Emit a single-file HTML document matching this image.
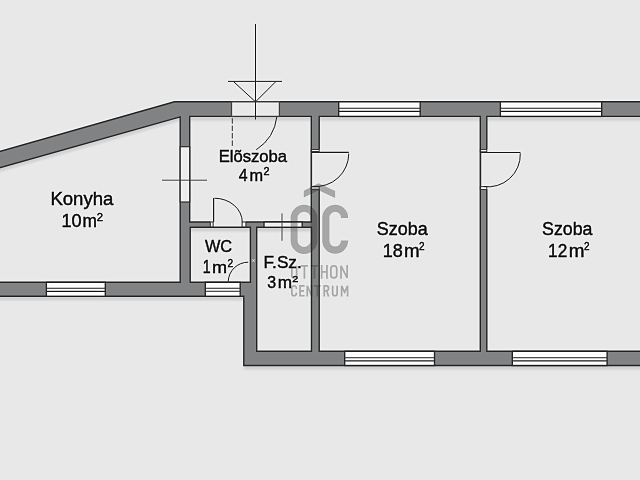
<!DOCTYPE html>
<html><head><meta charset="utf-8"><title>Floor plan</title>
<style>
html,body{margin:0;padding:0;background:#e8e8e8;overflow:hidden;width:640px;height:480px}
svg{display:block}
text{font-family:"Liberation Sans",sans-serif}
</style></head><body>
<svg width="640" height="480" viewBox="0 0 640 480">
<defs><filter id="sb" x="-10%" y="-10%" width="120%" height="120%"><feGaussianBlur stdDeviation="1.2"/></filter><filter id="usm" filterUnits="userSpaceOnUse" x="-20" y="-20" width="680" height="520" color-interpolation-filters="sRGB"><feGaussianBlur in="SourceGraphic" stdDeviation="1.0" result="b"/><feComposite in="SourceGraphic" in2="b" operator="arithmetic" k1="0" k2="1.3" k3="-0.3" k4="0"/></filter></defs><g filter="url(#usm)"><rect x="-20" y="-20" width="680" height="520" fill="#e8e8e8"/>
<path d="M-5,152.8 L174.5,101.8 L645,101.8 L645,365.5 L243.8,365.5 L243.8,296.3 L-5,296.3 Z M-5,169.0 L180.2,116.8 L180.2,282.3 L-5,282.3 Z M189.7,116.4 H311.3 V222.0 H189.7 Z M190.2,227.3 H250.4 V282.3 H190.2 Z M256.7,227.3 H311.5 V351.3 H256.7 Z M319.2,116.4 H480.3 V351.3 H319.2 Z M486.8,116.4 H656.8 V351.3 H486.8 Z" fill-rule="evenodd" fill="#000" opacity="0.11" transform="translate(0,4.0)" filter="url(#sb)"/>
<path d="M-5,152.8 L174.5,101.8 L645,101.8 L645,365.5 L243.8,365.5 L243.8,296.3 L-5,296.3 Z M-5,169.0 L180.2,116.8 L180.2,282.3 L-5,282.3 Z M189.7,116.4 H311.3 V222.0 H189.7 Z M190.2,227.3 H250.4 V282.3 H190.2 Z M256.7,227.3 H311.5 V351.3 H256.7 Z M319.2,116.4 H480.3 V351.3 H319.2 Z M486.8,116.4 H656.8 V351.3 H486.8 Z" fill-rule="evenodd" fill="#818283" stroke="#333333" stroke-width="1.4"/>
<rect x="338.7" y="101.8" width="81.50" height="14.60" fill="#f9f9f9" stroke="#333333" stroke-width="1.4"/><line x1="338.7" x2="420.2" y1="108.20" y2="108.20" stroke="#333333" stroke-width="1.1"/><line x1="338.7" x2="420.2" y1="111.40" y2="111.40" stroke="#333333" stroke-width="1.1"/>
<rect x="500.4" y="101.8" width="101.30" height="14.60" fill="#f9f9f9" stroke="#333333" stroke-width="1.4"/><line x1="500.4" x2="601.7" y1="108.20" y2="108.20" stroke="#333333" stroke-width="1.1"/><line x1="500.4" x2="601.7" y1="111.40" y2="111.40" stroke="#333333" stroke-width="1.1"/>
<rect x="344.7" y="351.3" width="89.80" height="14.20" fill="#f9f9f9" stroke="#333333" stroke-width="1.4"/><line x1="344.7" x2="434.5" y1="357.70" y2="357.70" stroke="#333333" stroke-width="1.1"/><line x1="344.7" x2="434.5" y1="360.90" y2="360.90" stroke="#333333" stroke-width="1.1"/>
<rect x="512.3" y="351.3" width="94.80" height="14.20" fill="#f9f9f9" stroke="#333333" stroke-width="1.4"/><line x1="512.3" x2="607.1" y1="357.70" y2="357.70" stroke="#333333" stroke-width="1.1"/><line x1="512.3" x2="607.1" y1="360.90" y2="360.90" stroke="#333333" stroke-width="1.1"/>
<rect x="46.4" y="282.3" width="58.90" height="14.00" fill="#f9f9f9" stroke="#333333" stroke-width="1.4"/><line x1="46.4" x2="105.3" y1="288.30" y2="288.30" stroke="#333333" stroke-width="1.1"/><line x1="46.4" x2="105.3" y1="291.40" y2="291.40" stroke="#333333" stroke-width="1.1"/>
<rect x="205.3" y="282.3" width="34.90" height="14.00" fill="#f9f9f9" stroke="#333333" stroke-width="1.4"/><line x1="205.3" x2="240.2" y1="288.30" y2="288.30" stroke="#333333" stroke-width="1.1"/><line x1="205.3" x2="240.2" y1="291.30" y2="291.30" stroke="#333333" stroke-width="1.1"/>
<rect x="231.5" y="101.8" width="47.9" height="14.60" fill="#e8e8e8" stroke="#4a4a4a" stroke-width="1.3"/>
<rect x="180.2" y="146.7" width="9.5" height="55.3" fill="#ebebeb" stroke="#3a3a3a" stroke-width="1.2"/>
<rect x="210.3" y="220.5" width="35.6" height="6.8" fill="#e8e8e8"/>
<rect x="210.3" y="222.0" width="2.8" height="5.3" fill="#f4f4f4" stroke="#333333" stroke-width="1"/>
<rect x="242.1" y="222.0" width="3.8" height="5.3" fill="#f4f4f4" stroke="#333333" stroke-width="1"/>
<line x1="210" x2="246" y1="227.3" y2="227.3" stroke="#333333" stroke-width="1.4"/>
<rect x="264" y="222.0" width="38.2" height="5.3" fill="#ebebeb" stroke="#333333" stroke-width="1.4"/>
<rect x="312.2" y="149.5" width="8.6" height="39.8" fill="#e8e8e8"/>
<rect x="311.3" y="149.5" width="7.9" height="2.0" fill="#f4f4f4" stroke="#333333" stroke-width="0.9"/>
<rect x="311.3" y="186.6" width="7.9" height="2.8" fill="#f4f4f4" stroke="#333333" stroke-width="0.9"/>
<line x1="311.4" x2="311.4" y1="149" y2="190" stroke="#3a3a3a" stroke-width="1.05"/>
<rect x="481.2" y="149.2" width="7.2" height="40.4" fill="#e8e8e8"/>
<rect x="480.3" y="149.4" width="6.5" height="2.4" fill="#f4f4f4" stroke="#333333" stroke-width="0.9"/>
<rect x="480.3" y="186.7" width="6.5" height="2.8" fill="#f4f4f4" stroke="#333333" stroke-width="0.9"/>
<line x1="480.6" x2="480.6" y1="149" y2="190" stroke="#3a3a3a" stroke-width="1.05"/>
<g fill="none" stroke="#333333" stroke-width="1.0">
<line x1="311.5" y1="152.3" x2="348.8" y2="152.3" stroke-width="1.2"/>
<path d="M348.75,153.6 A33,33 0 0 1 312.8,186.4"/>
<line x1="480.6" y1="152.5" x2="520.4" y2="152.5" stroke-width="1.2"/>
<path d="M520.3,153.3 A32.3,32.3 0 0 1 483.3,186.5"/>
<line x1="213.6" y1="198" x2="213.6" y2="222" stroke-width="1.2"/>
<path d="M214.5,198.2 A28,24 0 0 1 242.3,222"/>
<path d="M276.9,116.4 A45.9,45.9 0 0 1 256.2,149.75"/>
<line x1="232.3" y1="118.2" x2="232.3" y2="146.6" stroke-dasharray="5.5,1.9" stroke="#444"/>
<path d="M248.2,262.2 A20,20 0 0 0 228.2,281.5"/>
<line x1="255.5" y1="24" x2="255.5" y2="119.5"/>
<line x1="228" y1="81.4" x2="282" y2="81.4"/>
<polyline points="233.3,81.4 255.5,101.8 276,81.4"/>
<line x1="162" y1="180.2" x2="207" y2="180.2" stroke-width="0.9" stroke="#444"/>
<line x1="282" y1="213.4" x2="282" y2="240.8" stroke-width="0.9" stroke="#444"/>
</g>
<path d="M252.3,259.4 L254.5,261.6 M254.5,259.4 L252.3,261.6" stroke="#f0f0f0" stroke-width="0.9"/>
<text transform="translate(50.42,204.75) scale(1.0242,1)" font-size="18.12" fill="#1b1b1b" stroke="#1b1b1b" stroke-width="0.45">Konyha</text>
<text transform="translate(61.53,227.02) scale(1.0210,1)" font-size="17.75" fill="#1b1b1b" stroke="#1b1b1b" stroke-width="0.45">10</text>
<text transform="translate(82.56,227.20) scale(0.9847,1)" font-size="17.59" fill="#1b1b1b" stroke="#1b1b1b" stroke-width="0.45">m</text>
<text transform="translate(96.73,220.50) scale(1.0840,1)" font-size="10.43" fill="#1b1b1b" stroke="#1b1b1b" stroke-width="0.4">2</text>
<text transform="translate(218.67,161.50) scale(1.0210,1)" font-size="16.30" fill="#1b1b1b" stroke="#1b1b1b" stroke-width="0.45">Elõszoba</text>
<text transform="translate(238.78,180.50) scale(0.9584,1)" font-size="16.57" fill="#1b1b1b" stroke="#1b1b1b" stroke-width="0.45">4</text>
<text transform="translate(249.62,180.50) scale(0.9695,1)" font-size="16.85" fill="#1b1b1b" stroke="#1b1b1b" stroke-width="0.45">m</text>
<text transform="translate(263.46,174.90) scale(1.0568,1)" font-size="10.29" fill="#1b1b1b" stroke="#1b1b1b" stroke-width="0.4">2</text>
<text transform="translate(376.78,235.42) scale(0.9727,1)" font-size="18.45" fill="#1b1b1b" stroke="#1b1b1b" stroke-width="0.45">Szoba</text>
<text transform="translate(382.64,256.56) scale(0.9719,1)" font-size="18.52" fill="#1b1b1b" stroke="#1b1b1b" stroke-width="0.45">18</text>
<text transform="translate(403.88,256.75) scale(1.0375,1)" font-size="18.06" fill="#1b1b1b" stroke="#1b1b1b" stroke-width="0.45">m</text>
<text transform="translate(419.00,249.70) scale(0.9459,1)" font-size="10.57" fill="#1b1b1b" stroke="#1b1b1b" stroke-width="0.4">2</text>
<text transform="translate(542.04,235.42) scale(0.9630,1)" font-size="18.45" fill="#1b1b1b" stroke="#1b1b1b" stroke-width="0.45">Szoba</text>
<text transform="translate(548.10,256.75) scale(0.9156,1)" font-size="18.79" fill="#1b1b1b" stroke="#1b1b1b" stroke-width="0.45">12</text>
<text transform="translate(568.87,256.75) scale(1.0453,1)" font-size="18.06" fill="#1b1b1b" stroke="#1b1b1b" stroke-width="0.45">m</text>
<text transform="translate(584.00,249.70) scale(0.9459,1)" font-size="10.57" fill="#1b1b1b" stroke="#1b1b1b" stroke-width="0.4">2</text>
<text transform="translate(204.90,251.90) scale(0.9383,1)" font-size="17.39" fill="#1b1b1b" stroke="#1b1b1b" stroke-width="0.45">WC</text>
<text transform="translate(202.76,272.50) scale(0.8034,1)" font-size="17.68" fill="#1b1b1b" stroke="#1b1b1b" stroke-width="0.45">1</text>
<text transform="translate(212.02,272.50) scale(1.0357,1)" font-size="17.41" fill="#1b1b1b" stroke="#1b1b1b" stroke-width="0.45">m</text>
<text transform="translate(227.59,266.60) scale(0.9536,1)" font-size="10.71" fill="#1b1b1b" stroke="#1b1b1b" stroke-width="0.4">2</text>
<text transform="translate(263.53,267.90) scale(0.9881,1)" font-size="17.39" fill="#1b1b1b" stroke="#1b1b1b" stroke-width="0.45">F.Sz.</text>
<text transform="translate(267.22,287.63) scale(0.9498,1)" font-size="16.76" fill="#1b1b1b" stroke="#1b1b1b" stroke-width="0.45">3</text>
<text transform="translate(277.87,287.80) scale(1.0665,1)" font-size="16.11" fill="#1b1b1b" stroke="#1b1b1b" stroke-width="0.45">m</text>
<text transform="translate(292.16,281.90) scale(1.1027,1)" font-size="9.86" fill="#1b1b1b" stroke="#1b1b1b" stroke-width="0.4">2</text>
<polygon fill="rgba(40,40,40,0.335)" points="303.8,190.7 318.6,183.2 335.1,191.1 335.1,197.9 318.6,190.2 303.8,197.6"/>
<g fill="none" stroke="rgba(40,40,40,0.335)" stroke-width="7.1">
<rect x="294.1" y="208.25" width="19.9" height="42.2" rx="9.95" stroke-width="6.9"/>
<path d="M344.55,218.1 L344.55,217.6 A9.35,9.35 0 0 0 325.85,217.6 L325.85,240.8 A9.35,9.35 0 0 0 344.55,240.8 L344.55,240.5"/>
</g>
<path d="M291.85,265.85 V275.45 A2.40,2.40 0 0 0 296.65,275.45 V265.85 M300.80,265.85 H308.00 M304.40,265.85 V278.70 M310.80,265.85 H318.00 M314.40,265.85 V278.70 M321.65,265.00 V278.70 M326.95,265.00 V278.70 M321.65,271.85 H326.95 M330.85,268.80 A2.95,2.95 0 0 1 336.75,268.80 V274.90 A2.95,2.95 0 0 1 330.85,274.90 Z M341.05,278.70 V265.85 L347.15,277.85 V265.00 M296.35,288.90 V288.10 A2.25,2.25 0 0 0 291.85,288.10 V293.50 A2.25,2.25 0 0 0 296.35,293.50 V292.70 M304.60,285.85 H300.05 V295.75 H304.60 M300.05,290.80 H304.00 M307.25,296.60 V285.85 L311.55,295.75 V285.00 M314.20,285.85 H320.60 M317.40,285.85 V296.60 M324.25,296.60 V285.85 H326.07 A2.47,2.47 0 0 1 326.07,290.80 H324.25 M326.70,290.80 L328.55,296.60 M332.65,285.85 V293.50 A2.25,2.25 0 0 0 337.15,293.50 V285.85 M341.65,296.60 V285.85 L344.60,292.30 L347.55,285.85 V296.60" fill="none" stroke="rgba(40,40,40,0.31)" stroke-width="1.7" stroke-linejoin="miter"/></g>
</svg>
</body></html>
